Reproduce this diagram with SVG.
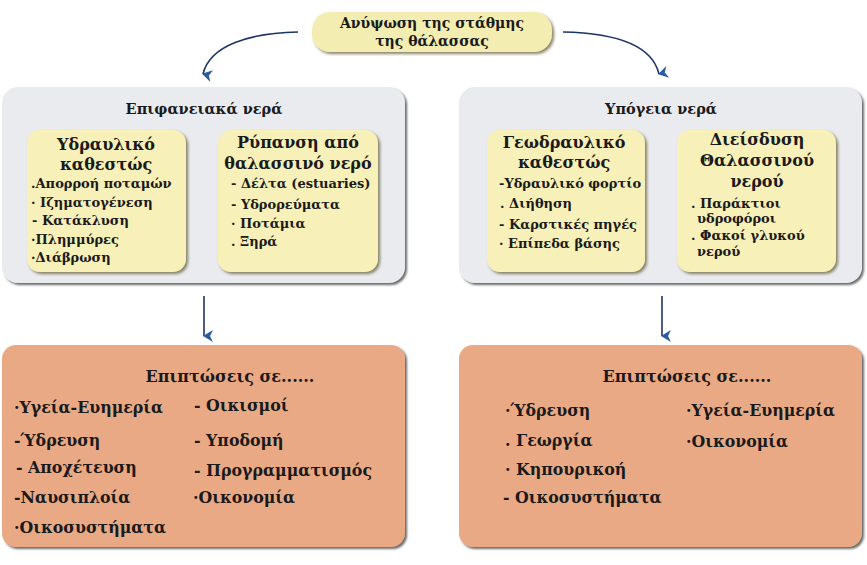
<svg xmlns="http://www.w3.org/2000/svg" width="867" height="565" viewBox="0 0 867 565">
<style>
text{font-family:"DejaVu Serif","Liberation Serif",serif;font-weight:bold;fill:#1a1a1a}
.top{font-size:14px}
.t{font-size:14.5px}
.e{font-size:16px}
.h{font-size:16px}
.i{font-size:13px}
.b{font-size:15.8px}
.c{text-anchor:middle}
.panel{fill:#e9ebef;filter:url(#sh)}
.inner{fill:#f7f0b8;filter:url(#sh2)}
.imp{fill:#eaa985;filter:url(#sh)}
.conn{fill:none;stroke:#1c3566;stroke-width:1.6}
</style>
<defs>
<filter id="sh" x="-5%" y="-5%" width="110%" height="115%">
<feDropShadow dx="2" dy="2" stdDeviation="1.2" flood-color="#444" flood-opacity="0.8"/>
</filter>
<filter id="sh2" x="-5%" y="-5%" width="115%" height="115%">
<feDropShadow dx="2" dy="2" stdDeviation="1.5" flood-color="#6a6440" flood-opacity="0.8"/>
</filter>
<marker id="ah" viewBox="0 0 12 12" refX="6" refY="11" markerWidth="12" markerHeight="12" markerUnits="userSpaceOnUse" orient="auto-start-reverse">
<path d="M0,2 L6,5 L12,2 L6,12 Z" fill="#2a5aa0"/>
</marker>
</defs>
<rect width="867" height="565" fill="#ffffff"/>

<g id="top">
<rect x="312" y="12" width="240" height="40" rx="18" fill="#f4edb2" filter="url(#sh2)"/>
<text class="top c" x="432" y="28">Ανύψωση της στάθμης</text>
<text class="top c" x="432" y="46">της θάλασσας</text>
</g>

<g id="surface">
<rect class="panel" x="2" y="87" width="403" height="196" rx="16"/>
<text class="t c" x="204" y="114">Επιφανειακά νερά</text>
</g>
<g id="hydraulic">
<rect class="inner" x="27" y="130" width="159" height="142" rx="13"/>
<text class="h c" x="106" y="150">Υδραυλικό</text>
<text class="h c" x="106" y="170">καθεστώς</text>
<text class="i" x="31" y="188">.Απορροή ποταμών</text>
<text class="i" x="31" y="207">· Ιζηματογένεση</text>
<text class="i" x="32" y="225">- Κατάκλυση</text>
<text class="i" x="31" y="244">·Πλημμύρες</text>
<text class="i" x="31" y="262">·Διάβρωση</text>
</g>
<g id="pollution">
<rect class="inner" x="218" y="130" width="160" height="142" rx="13"/>
<text class="h c" x="298" y="148">Ρύπανση από</text>
<text class="h c" x="298" y="169">θαλασσινό νερό</text>
<text class="i" x="231" y="188">- Δέλτα (estuaries)</text>
<text class="i" x="231" y="209">- Υδρορεύματα</text>
<text class="i" x="231" y="228">· Ποτάμια</text>
<text class="i" x="231" y="246">. Ξηρά</text>
</g>

<g id="ground">
<rect class="panel" x="459" y="87" width="403" height="196" rx="16"/>
<text class="t c" x="661" y="114">Υπόγεια νερά</text>
</g>
<g id="geohydraulic">
<rect class="inner" x="487" y="130" width="158" height="142" rx="13"/>
<text class="h c" x="564" y="148">Γεωδραυλικό</text>
<text class="h c" x="564" y="168">καθεστώς</text>
<text class="i" x="499" y="188">-Υδραυλικό φορτίο</text>
<text class="i" x="500" y="208">. Διήθηση</text>
<text class="i" x="499" y="229">- Καρστικές πηγές</text>
<text class="i" x="499" y="248">· Επίπεδα βάσης</text>
</g>
<g id="intrusion">
<rect class="inner" x="677" y="130" width="159" height="142" rx="13"/>
<text class="h c" x="757" y="145">Διείσδυση</text>
<text class="h c" x="757" y="166">Θαλασσινού</text>
<text class="h c" x="757" y="187">νερού</text>
<text class="i" x="691" y="208">. Παράκτιοι</text>
<text class="i" x="697" y="223">υδροφόροι</text>
<text class="i" x="691" y="240">. Φακοί γλυκού</text>
<text class="i" x="697" y="256">νερού</text>
</g>

<g id="impactsSurface">
<rect class="imp" x="2" y="345" width="403" height="202" rx="14"/>
<text class="e c" x="230" y="382">Επιπτώσεις σε......</text>
<text class="b" x="14" y="413">·Υγεία-Ευημερία</text>
<text class="b" x="194" y="411">- Οικισμοί</text>
<text class="b" x="14" y="446">-Ύδρευση</text>
<text class="b" x="194" y="446">- Υποδομή</text>
<text class="b" x="16" y="473">- Αποχέτευση</text>
<text class="b" x="194" y="476">- Προγραμματισμός</text>
<text class="b" x="14" y="503">-Ναυσιπλοία</text>
<text class="b" x="193" y="503">·Οικονομία</text>
<text class="b" x="14" y="533">·Οικοσυστήματα</text>
</g>

<g id="impactsGround">
<rect class="imp" x="459" y="345" width="403" height="202" rx="14"/>
<text class="e c" x="687" y="382">Επιπτώσεις σε......</text>
<text class="b" x="505" y="416">·Ύδρευση</text>
<text class="b" x="686" y="416">·Υγεία-Ευημερία</text>
<text class="b" x="505" y="446">. Γεωργία</text>
<text class="b" x="686" y="447">·Οικονομία</text>
<text class="b" x="505" y="475">· Κηπουρικοή</text>
<text class="b" x="503" y="503">- Οικοσυστήματα</text>
</g>

<g id="connectors">
<path class="conn" d="M298,32 C250,33 210,45 203,74" marker-end="url(#ah)"/>
<path class="conn" d="M563,32 C615,33 652,45 659,74" marker-end="url(#ah)"/>
<path class="conn" d="M204,296 L204,336" marker-end="url(#ah)"/>
<path class="conn" d="M662,296 L662,336" marker-end="url(#ah)"/>
</g>
</svg>
